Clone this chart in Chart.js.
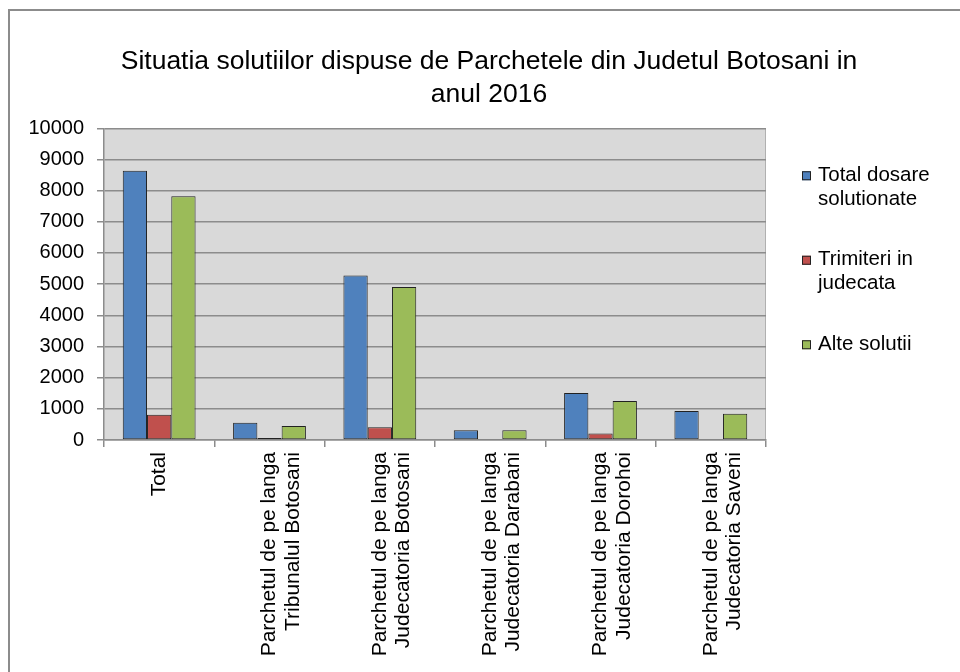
<!DOCTYPE html>
<html>
<head>
<meta charset="utf-8">
<script src="https://cdn.jsdelivr.net/npm/chart.js@4.4.1/dist/chart.umd.min.js"></script>
<style>
  html, body { margin: 0; padding: 0; background: #fff; overflow: hidden; }
  .frame { position: absolute; left: 8px; top: 9px; width: 1100px; height: 800px; border: 2px solid #8c8c8c; }
  .wrap { position: absolute; left: 0; top: 0; width: 960px; height: 672px; }
</style>
</head>
<body>
<div class="frame"></div>
<div class="wrap"><canvas id="chart" width="960" height="672"></canvas></div>
<script>
/* Situatia solutiilor - Parchetele din Judetul Botosani, 2016 */

const categories = [
  ['Total'],
  ['Parchetul de pe langa', 'Tribunalul Botosani'],
  ['Parchetul de pe langa', 'Judecatoria Botosani'],
  ['Parchetul de pe langa', 'Judecatoria Darabani'],
  ['Parchetul de pe langa', 'Judecatoria Dorohoi'],
  ['Parchetul de pe langa', 'Judecatoria Saveni']
];

const seriesNames = ['Total dosare solutionate', 'Trimiteri in judecata', 'Alte solutii'];
const legendLines = [['Total dosare', 'solutionate'], ['Trimiteri in', 'judecata'], ['Alte solutii']];

const totalDosare = [8640, 555, 5280, 310, 1505, 930];
const trimiteri   = [810, 65, 405, 35, 205, 35];
const alteSolutii = [7815, 450, 4905, 310, 1250, 845];

const colors = ['#4f81bd', '#c0504d', '#9bbb59'];
const FONT = '"Liberation Sans", Arial, sans-serif';

// grey plot background
const plotBg = {
  id: 'plotBg',
  beforeDraw(chart) {
    const a = chart.chartArea, ctx = chart.ctx;
    ctx.save();
    ctx.fillStyle = '#d9d9d9';
    ctx.fillRect(a.left, a.top, a.right - a.left, a.bottom - a.top);
    ctx.strokeStyle = '#b0b0b0';
    ctx.lineWidth = 1;
    ctx.beginPath();
    ctx.moveTo(a.right - 0.5, a.top);
    ctx.lineTo(a.right - 0.5, a.bottom);
    ctx.stroke();
    ctx.restore();
  }
};

// legend on the right with wrapped labels
const sideLegend = {
  id: 'sideLegend',
  afterDraw(chart) {
    const ctx = chart.ctx, a = chart.chartArea;
    const x = a.right + 36;
    let y = a.top + 47;
    ctx.save();
    ctx.font = '20.5px ' + FONT;
    ctx.textBaseline = 'middle';
    ctx.textAlign = 'left';
    chart.data.datasets.forEach((ds, i) => {
      ctx.fillStyle = ds.backgroundColor;
      ctx.fillRect(x, y - 4, 9, 9);
      ctx.strokeStyle = '#222';
      ctx.lineWidth = 1;
      ctx.strokeRect(x + 0.5, y - 3.5, 8, 8);
      ctx.fillStyle = '#000';
      legendLines[i].forEach((t, j) => ctx.fillText(t, x + 16, y + j * 24));
      y += 84.5;
    });
    ctx.restore();
  }
};

const mkSet = (label, data, i) => ({
  label, data,
  backgroundColor: colors[i],
  borderColor: '#222',
  borderWidth: 1,
  borderSkipped: false,
  barPercentage: 1,
  categoryPercentage: 0.66,
  yAxisID: 'y'
});

new Chart(document.getElementById('chart'), {
  type: 'bar',
  data: {
    labels: categories,
    datasets: [
      mkSet(seriesNames[0], totalDosare, 0),
      mkSet(seriesNames[1], trimiteri, 1),
      mkSet(seriesNames[2], alteSolutii, 2)
    ]
  },
  options: {
    responsive: false,
    animation: false,
    layout: { padding: { left: 18, right: 0, top: 0, bottom: 0 } },
    plugins: {
      legend: { display: false },
      tooltip: { enabled: false },
      title: {
        display: true,
        text: ['Situatia solutiilor dispuse de Parchetele din Judetul Botosani in', 'anul 2016'],
        color: '#000',
        font: { family: FONT, size: 26.5, weight: 'normal', lineHeight: 1.25 },
        padding: { top: 45, bottom: 17 }
      }
    },
    scales: {
      x: {
        grid: { offset: true, drawOnChartArea: false, drawTicks: true, tickLength: 7, color: '#8c8c8c', lineWidth: 1.5 },
        border: { color: '#8c8c8c', width: 1.5 },
        ticks: {
          autoSkip: false, maxRotation: 90, minRotation: 90, padding: 5,
          color: '#000',
          font: { family: FONT, size: 21, lineHeight: 1.12 }
        },
        afterFit: s => { s.height = 232; }
      },
      y: {
        min: 0, max: 10000,
        grid: { color: '#8c8c8c', lineWidth: 1.5, tickLength: 7 },
        border: { color: '#8c8c8c', width: 1.5 },
        ticks: {
          stepSize: 1000, padding: 13, color: '#000',
          font: { family: FONT, size: 20 },
          callback: v => String(v)
        },
        afterFit: s => { s.width = 86; }
      },
      side: {
        type: 'linear', position: 'right', display: true,
        grid: { display: false, drawTicks: false },
        border: { display: false },
        ticks: { display: false },
        afterFit: s => { s.width = 194; }
      }
    }
  },
  plugins: [plotBg, sideLegend]
});
</script>
</body>
</html>
